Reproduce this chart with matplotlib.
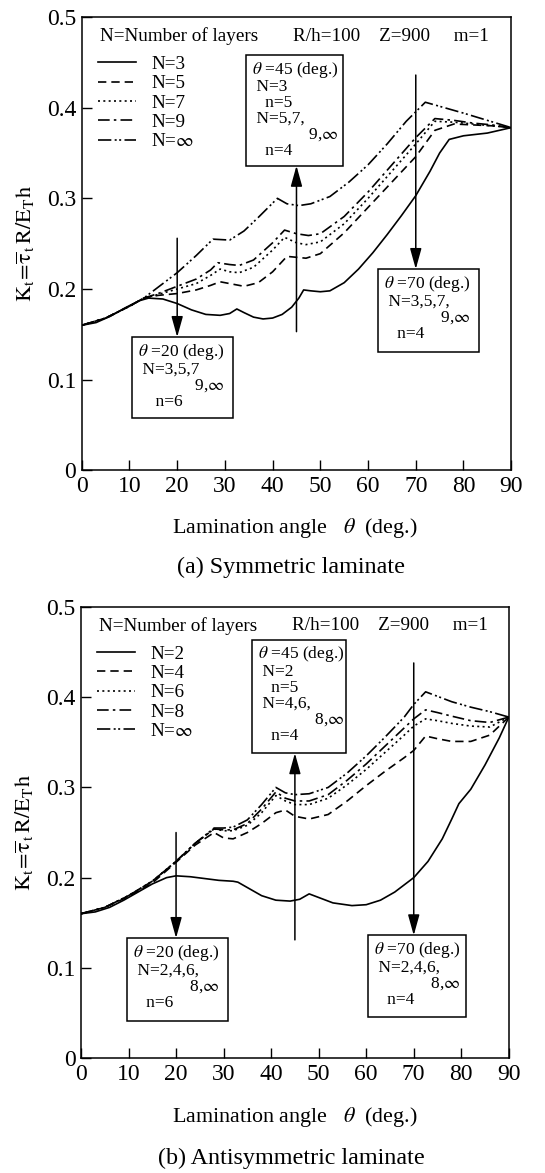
import numpy as np
import matplotlib
matplotlib.use("Agg")
import matplotlib.pyplot as plt
from matplotlib.patches import Rectangle

plt.rcParams['font.family'] = ['Liberation Serif', 'DejaVu Serif']
plt.rcParams['mathtext.fontset'] = 'stix'

# ---- (a) symmetric laminate ----
sym_labels = ["N=3", "N=5", "N=7", "N=9", r"N=$\infty$"]
sym_x = [
    [0, 3, 6, 9, 12, 14, 17, 20, 23, 26, 29, 31, 32.5, 34, 36, 38, 40, 42, 44, 45.5, 46.5, 48, 50, 52, 55, 58, 61, 64, 67, 70, 73, 75, 77, 80, 85, 90],
    [0, 5, 10, 13, 16, 20, 24, 27, 29, 31, 34, 37, 40, 43, 45, 47, 50, 55, 60, 65, 70, 74, 78, 82, 86, 90],
    [0, 5, 10, 13, 16, 20, 24, 27, 29, 31, 33, 36, 40, 42.5, 45, 47, 50, 55, 60, 65, 70, 74, 78, 82, 86, 90],
    [0, 5, 10, 13, 16, 20, 24, 27, 28.5, 31, 33, 36, 40, 42.5, 45, 47.5, 50, 55, 60, 65, 70, 74, 78, 82, 86, 90],
    [0, 5, 10, 13, 16, 20, 24, 27.5, 31, 34, 37, 41, 43, 45.5, 48, 52, 56, 60, 64, 68, 72, 76, 80, 85, 90],
]
sym_y = [
    [0.160, 0.163, 0.170, 0.179, 0.187, 0.190, 0.189, 0.184, 0.177, 0.172, 0.171, 0.173, 0.178, 0.174, 0.169, 0.167, 0.168, 0.172, 0.180, 0.190, 0.199, 0.198, 0.197, 0.198, 0.207, 0.222, 0.240, 0.260, 0.281, 0.303, 0.330, 0.350, 0.365, 0.369, 0.372, 0.378],
    [0.160, 0.168, 0.181, 0.190, 0.193, 0.195, 0.199, 0.204, 0.208, 0.206, 0.203, 0.207, 0.219, 0.236, 0.235, 0.234, 0.239, 0.262, 0.290, 0.318, 0.346, 0.375, 0.382, 0.381, 0.380, 0.378],
    [0.160, 0.168, 0.181, 0.190, 0.194, 0.200, 0.206, 0.215, 0.222, 0.219, 0.218, 0.224, 0.243, 0.257, 0.251, 0.249, 0.252, 0.272, 0.300, 0.330, 0.360, 0.385, 0.384, 0.382, 0.380, 0.378],
    [0.160, 0.168, 0.181, 0.190, 0.195, 0.203, 0.211, 0.221, 0.229, 0.227, 0.226, 0.232, 0.251, 0.265, 0.261, 0.259, 0.261, 0.280, 0.307, 0.337, 0.367, 0.388, 0.386, 0.383, 0.381, 0.378],
    [0.160, 0.168, 0.181, 0.190, 0.202, 0.218, 0.237, 0.255, 0.254, 0.264, 0.279, 0.300, 0.294, 0.292, 0.294, 0.302, 0.318, 0.337, 0.360, 0.385, 0.406, 0.400, 0.394, 0.386, 0.378],
]

# ---- (b) antisymmetric laminate ----
anti_labels = ["N=2", "N=4", "N=6", "N=8", r"N=$\infty$"]
anti_x_solid = [0, 3, 6, 9, 12, 15, 18, 20, 23, 26, 29, 32, 33, 35, 38, 41, 44, 46, 48, 50, 53, 57, 60, 63, 66, 70, 73, 76, 78, 79.5, 82, 85, 88, 90]
anti_x_other = [0, 5, 10, 15, 20, 24, 28, 30, 32, 35, 38, 41, 43, 45, 48, 52, 56, 60, 64, 68, 70, 72.5, 75, 78, 82, 86, 90]
anti_x = [anti_x_solid] + [anti_x_other] * 4
anti_y = [
    [0.160, 0.162, 0.167, 0.175, 0.184, 0.193, 0.200, 0.202, 0.201, 0.199, 0.197, 0.196, 0.195, 0.189, 0.180, 0.175, 0.174, 0.176, 0.182, 0.178, 0.172, 0.169, 0.170, 0.175, 0.184, 0.200, 0.218, 0.243, 0.265, 0.282, 0.298, 0.325, 0.355, 0.378],
    [0.160, 0.167, 0.179, 0.194, 0.217, 0.236, 0.250, 0.244, 0.243, 0.250, 0.260, 0.272, 0.275, 0.268, 0.265, 0.270, 0.285, 0.302, 0.318, 0.333, 0.341, 0.357, 0.354, 0.351, 0.351, 0.358, 0.378],
    [0.160, 0.167, 0.180, 0.196, 0.218, 0.238, 0.254, 0.252, 0.252, 0.258, 0.272, 0.291, 0.285, 0.281, 0.281, 0.288, 0.303, 0.320, 0.339, 0.358, 0.368, 0.376, 0.374, 0.371, 0.368, 0.367, 0.378],
    [0.160, 0.167, 0.180, 0.196, 0.218, 0.238, 0.254, 0.253, 0.253, 0.260, 0.276, 0.295, 0.288, 0.285, 0.285, 0.292, 0.308, 0.326, 0.346, 0.366, 0.376, 0.386, 0.383, 0.379, 0.374, 0.372, 0.378],
    [0.160, 0.167, 0.180, 0.196, 0.218, 0.238, 0.255, 0.255, 0.256, 0.264, 0.281, 0.300, 0.294, 0.292, 0.293, 0.300, 0.316, 0.335, 0.356, 0.378, 0.392, 0.406, 0.401, 0.395, 0.389, 0.384, 0.378],
]

# arrows: angle, tail value, head value
sym_arrows = [(20, 0.256, 0.147), (45, 0.153, 0.336), (70, 0.436, 0.222)]
anti_arrows = [(20, 0.250, 0.133), (45, 0.131, 0.338), (70, 0.438, 0.136)]

# boxes: x0, x1, y0, y1 and text lines
sym_boxes = [
    (10.5, 31.6, 0.058, 0.147, [r"$\theta$ =20 (deg.)", " N=3,5,7", "             9,$\\infty$", "    n=6"]),
    (34.4, 54.7, 0.336, 0.458, [r"$\theta$ =45 (deg.)", " N=3", "   n=5", " N=5,7,", "             9,$\\infty$", "   n=4"]),
    (62.1, 83.3, 0.131, 0.222, [r"$\theta$ =70 (deg.)", " N=3,5,7,", "             9,$\\infty$", "   n=4"]),
]
anti_boxes = [
    (9.6, 30.9, 0.041, 0.133, [r"$\theta$ =20 (deg.)", " N=2,4,6,", "             8,$\\infty$", "   n=6"]),
    (35.9, 55.7, 0.338, 0.464, [r"$\theta$ =45 (deg.)", " N=2", "   n=5", " N=4,6,", "             8,$\\infty$", "   n=4"]),
    (60.3, 80.9, 0.045, 0.136, [r"$\theta$ =70 (deg.)", " N=2,4,6,", "             8,$\\infty$", "   n=4"]),
]

styles = ['-', (0, (5, 3)), (0, (1.2, 2)), (0, (7, 2.5, 1.5, 2.5)), (0, (8, 2, 1.2, 1.5, 1.2, 2))]

fig = plt.figure(figsize=(5.45, 11.73), dpi=100)
ax1 = fig.add_axes([0.150, 0.599, 0.788, 0.3865])
ax2 = fig.add_axes([0.1486, 0.098, 0.785, 0.3845])


def draw_panel(ax, xs, ys, labels, arrows, boxes):
    for i in range(5):
        ax.plot(xs[i], ys[i], color='black', lw=1.2, linestyle=styles[i], label=labels[i])
    for xa, t, h in arrows:
        ax.annotate("", xy=(xa, h), xytext=(xa, t),
                    arrowprops=dict(arrowstyle='-|>,head_length=0.9,head_width=0.25', color='black',
                                    lw=1.1, mutation_scale=14, shrinkA=0, shrinkB=0))
    for x0, x1, y0, y1, lines in boxes:
        ax.add_patch(Rectangle((x0, y0), x1 - x0, y1 - y0, fill=False, lw=1.1, ec='black'))
        ax.text(x0 + 1.3, y1 - 0.005, "\n".join(lines), ha='left', va='top',
                fontsize=12.5, linespacing=0.98)
    ax.set_xlim(0, 90)
    ax.set_ylim(0, 0.5)
    ax.set_xticks(np.arange(0, 91, 10))
    ax.set_yticks([0, 0.1, 0.2, 0.3, 0.4, 0.5])
    ax.set_yticklabels(["0", "0.1", "0.2", "0.3", "0.4", "0.5"])
    ax.tick_params(direction='in', length=7, width=1, labelsize=17, pad=4)
    for s in ax.spines.values():
        s.set_linewidth(1.1)
    ax.text(3.8, 0.479, "N=Number of layers", fontsize=13.8, va='center')
    ax.text(44.3, 0.479, "R/h=100    Z=900     m=1", fontsize=13.8, va='center')
    ax.legend(loc='upper left', bbox_to_anchor=(0.037, 0.915), frameon=False,
              fontsize=13.8, handlelength=2.0, handletextpad=0.8, labelspacing=0.1,
              borderpad=0, borderaxespad=0)
    ax.set_ylabel(r"$\mathrm{K_t\!=\!\overline{\tau}_{\,t}\,R/E_T h}$", fontsize=16)
    ax.yaxis.set_label_coords(-0.105, 0.5)


draw_panel(ax1, sym_x, sym_y, sym_labels, sym_arrows, sym_boxes)
draw_panel(ax2, anti_x, anti_y, anti_labels, anti_arrows, anti_boxes)

fig.text(0.541, 0.550, r"Lamination angle   $\theta$  (deg.)", ha='center', va='center', fontsize=15.8)
fig.text(0.534, 0.516, "(a) Symmetric laminate", ha='center', va='center', fontsize=17.4)
fig.text(0.541, 0.0477, r"Lamination angle   $\theta$  (deg.)", ha='center', va='center', fontsize=15.8)
fig.text(0.534, 0.0128, "(b) Antisymmetric laminate", ha='center', va='center', fontsize=17.4)

fig.savefig("out.png", dpi=100)
